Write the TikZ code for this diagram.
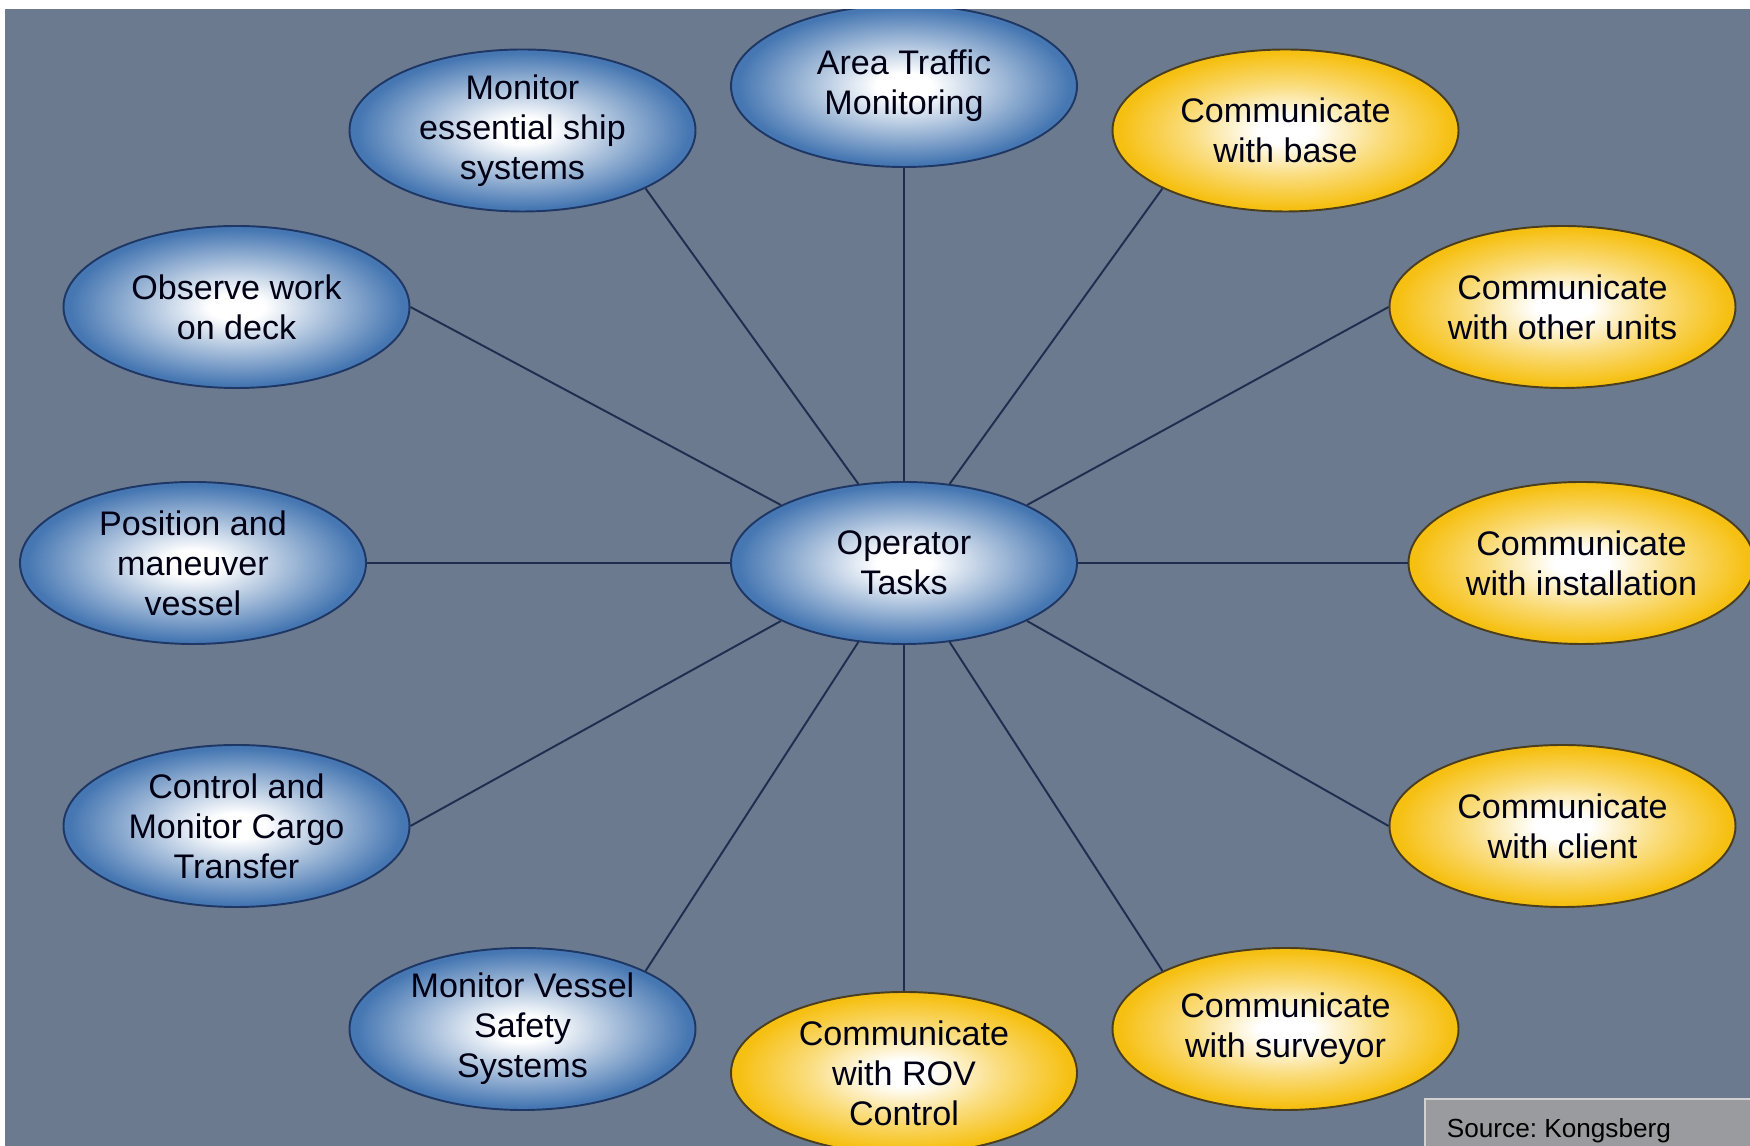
\documentclass[tikz,border=0pt]{standalone}
\usepackage{fontspec}
\setmainfont{Liberation Sans}
\usetikzlibrary{shapes.geometric}
\frenchspacing

\definecolor{slate}{HTML}{6B7A8F}
\definecolor{taskblue}{HTML}{4677B2}
\definecolor{taskedge}{HTML}{1E3764}
\definecolor{commgold}{HTML}{F6C012}
\definecolor{commedge}{HTML}{4A3E1E}
\definecolor{spokecol}{HTML}{1F2E4E}
\definecolor{srcgrey}{HTML}{9A9B9F}

% glossy fills for the two kinds of bubbles (border sits at 25bp)
\pgfdeclareradialshading{taskshade}{\pgfpoint{0bp}{0bp}}{color(0bp)=(white); color(4bp)=(white); color(14bp)=(taskblue!50!white); color(24bp)=(taskblue); color(50bp)=(taskblue)}
\pgfdeclareradialshading{commshade}{\pgfpoint{0bp}{0bp}}{color(0bp)=(white); color(4bp)=(white); color(14bp)=(commgold!55!white); color(24bp)=(commgold); color(50bp)=(commgold)}

\begin{document}
\begin{tikzpicture}[
    task/.style={ellipse, draw=taskedge, line width=1.1pt, shading=taskshade,
        minimum width=6.92cm, minimum height=3.24cm, inner sep=0pt, align=center,
        font=\fontsize{19.4}{22.8}\selectfont, text=black!92!blue},
    comm/.style={task, draw=commedge, shading=commshade},
    spoke/.style={draw=spokecol, line width=1.1pt}
]
    % Page and backdrop
    \useasboundingbox (0,0) rectangle (35,22.92);
    \fill[white] (0,0) rectangle (35,22.92);
    \fill[slate] (0.1,0) rectangle (35,22.74);

    % Hub
    \node[task] (ot) at (18.08,11.66) {Operator\\Tasks};

    % Vessel tasks (blue)
    \node[task] (atm) at (18.08,21.20) {Area Traffic\\Monitoring};
    \node[task] (mess) at (10.45,20.31) {Monitor\\essential ship\\systems};
    \node[task] (obs) at (4.73,16.78) {Observe work\\on deck};
    \node[task] (pos) at (3.86,11.66) {Position and\\maneuver\\vessel};
    \node[task] (cargo) at (4.73,6.40) {Control and\\Monitor Cargo\\Transfer};
    \node[task] (safety) at (10.45,2.34) {Monitor Vessel\\Safety\\Systems};

    % Communication tasks (gold)
    \node[comm] (rov) at (18.08,1.46) {Communicate\\with ROV\\Control};
    \node[comm] (surv) at (25.71,2.34) {Communicate\\with surveyor};
    \node[comm] (client) at (31.25,6.40) {Communicate\\with client};
    \node[comm] (inst) at (31.63,11.66) {Communicate\\with installation};
    \node[comm] (other) at (31.25,16.78) {Communicate\\with other units};
    \node[comm] (base) at (25.71,20.31) {Communicate\\with base};

    % Spokes from the hub
    \draw[spoke] (ot.north) -- (atm.south);
    \draw[spoke] (ot.120) -- (mess.south east);
    \draw[spoke] (ot.north west) -- (obs.east);
    \draw[spoke] (ot.west) -- (pos.east);
    \draw[spoke] (ot.south west) -- (cargo.east);
    \draw[spoke] (ot.-120) -- (safety.north east);
    \draw[spoke] (ot.south) -- (rov.north);
    \draw[spoke] (ot.-60) -- (surv.north west);
    \draw[spoke] (ot.south east) -- (client.west);
    \draw[spoke] (ot.east) -- (inst.west);
    \draw[spoke] (ot.north east) -- (other.west);
    \draw[spoke] (ot.60) -- (base.south west);

    % Top margin over the picture
    \fill[white] (0,22.74) rectangle (35,22.92);

    % Credit box
    \draw[fill=srcgrey, draw=black!18, line width=1.5pt] (28.5,-0.2) rectangle (35.2,0.94);
    \node[anchor=base west, inner sep=0pt, font=\fontsize{14.9}{17}\selectfont] (src) at (28.93,0.16) {Source: Kongsberg};
\end{tikzpicture}
\end{document}
